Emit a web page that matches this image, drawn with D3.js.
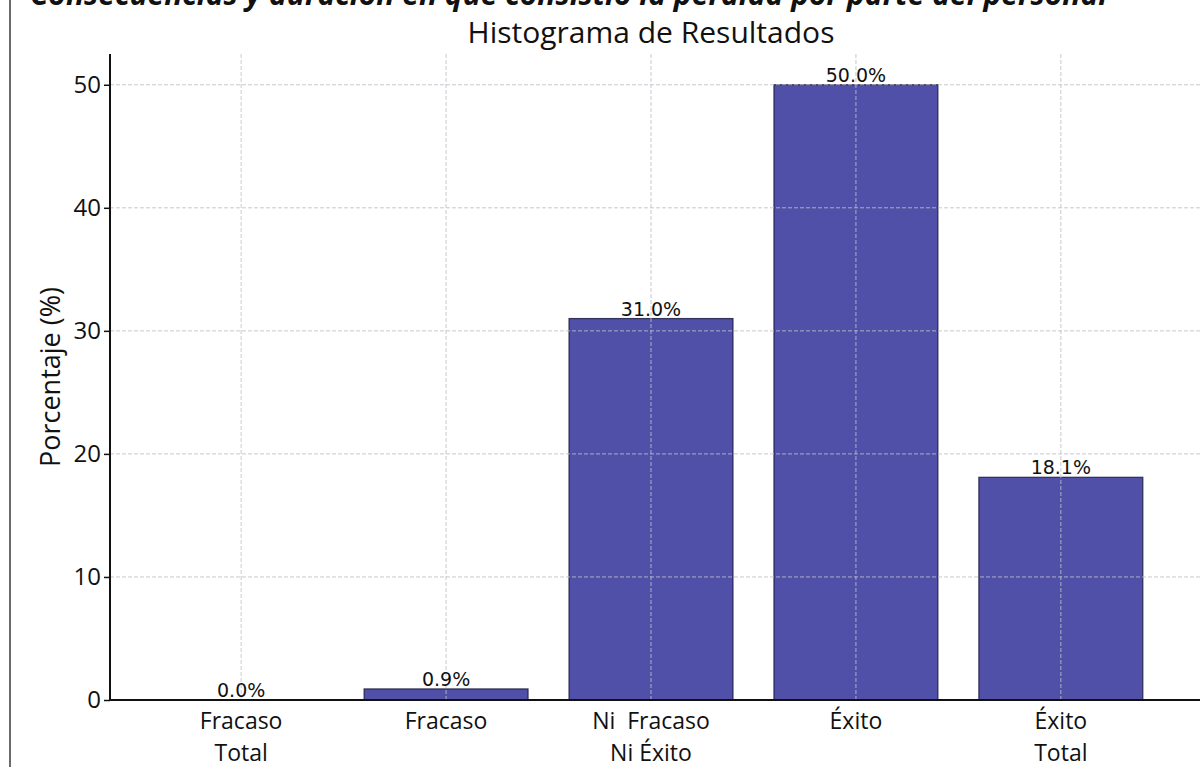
<!DOCTYPE html>
<html>
<head>
<meta charset="utf-8">
<script src="https://cdn.jsdelivr.net/npm/d3@7"></script>
<style>
  html, body { margin: 0; padding: 0; background: #fff; }
  svg { display: block; }
</style>
</head>
<body>
<svg id="chart" width="1200" height="767"></svg>
<script>
// Result categories (two-line labels) and their share in percent
const categories = ["Fracaso Total", "Fracaso", "Ni Fracaso Ni Éxito", "Éxito", "Éxito Total"];
const categoryLines = [["Fracaso", "Total"], ["Fracaso"], ["Ni  Fracaso", "Ni Éxito"], ["Éxito"], ["Éxito", "Total"]];
const percentages = [0.0, 0.9, 31.0, 50.0, 18.1];
const yTicks = [0, 10, 20, 30, 40, 50];

const title = "Histograma de Resultados";
const yLabel = "Porcentaje (%)";
const headerText = "Consecuencias y duración en que consistió la pérdida por parte del personal";

const svg = d3.select("#chart");
const W = 1200, H = 767;
const m = { left: 110, right: 1192, top: 54, bottom: 700 };

// page frame edge on the left
svg.append("line")
  .attr("x1", 10).attr("x2", 10).attr("y1", 0).attr("y2", H)
  .attr("stroke", "#6b6b6b").attr("stroke-width", 2);

// heading line, partly above the top edge
svg.append("text")
  .attr("x", 30).attr("y", 5)
  .attr("font-family", "Open Sans, sans-serif")
  .attr("font-size", 30).attr("font-weight", "bold").attr("font-style", "italic")
  .attr("fill", "#111")
  .text(headerText);

// x positions: bar centres one step apart, bars 0.8 step wide, 0.24 step margin
const x = d3.scaleLinear().domain([-0.64, 4.64]).range([m.left, m.right]);
const y = d3.scaleLinear().domain([0, 52.5]).range([m.bottom, m.top]);
const barHalf = 0.4;

// bars
svg.append("g").selectAll("rect")
  .data(percentages)
  .join("rect")
  .attr("x", (d, i) => x(i - barHalf))
  .attr("width", (d, i) => x(i + barHalf) - x(i - barHalf))
  .attr("y", d => y(d))
  .attr("height", d => y(0) - y(d))
  .attr("fill", "rgb(80,80,168)")
  .attr("stroke", "rgba(20,20,60,0.8)")
  .attr("stroke-width", 1.2);

// dashed grid drawn over the bars
const grid = svg.append("g")
  .attr("stroke", "rgba(190,190,200,0.85)")
  .attr("stroke-width", 1)
  .attr("stroke-dasharray", "4,2");
grid.selectAll("line.h")
  .data(yTicks.filter(t => t > 0))
  .join("line").attr("class", "h")
  .attr("x1", m.left).attr("x2", W)
  .attr("y1", d => y(d)).attr("y2", d => y(d));
grid.selectAll("line.v")
  .data(categories)
  .join("line").attr("class", "v")
  .attr("x1", (d, i) => x(i)).attr("x2", (d, i) => x(i))
  .attr("y1", m.top).attr("y2", m.bottom);

// value labels above each bar
svg.append("g").selectAll("text")
  .data(percentages)
  .join("text")
  .attr("x", (d, i) => x(i))
  .attr("y", d => y(d) - 3)
  .attr("text-anchor", "middle")
  .attr("font-family", "DejaVu Sans, sans-serif")
  .attr("font-size", 19)
  .attr("fill", "#111")
  .text(d => d.toFixed(1) + "%");

// y axis
const yAxis = svg.append("g")
  .attr("transform", `translate(${m.left},0)`)
  .call(d3.axisLeft(y).tickValues(yTicks).tickSize(6).tickPadding(3));
yAxis.select(".domain").remove();
yAxis.selectAll(".tick line").attr("stroke", "#111").attr("stroke-width", 1.5);
yAxis.selectAll(".tick text")
  .attr("font-family", "Open Sans, sans-serif")
  .attr("font-size", 24)
  .attr("fill", "#111");

// x axis category labels
const xLabels = svg.append("g").selectAll("text")
  .data(categoryLines)
  .join("text")
  .attr("x", (d, i) => x(i))
  .attr("y", 729)
  .attr("text-anchor", "middle")
  .attr("font-family", "Open Sans, sans-serif")
  .attr("font-size", 23)
  .attr("fill", "#111");
xLabels.selectAll("tspan")
  .data(d => d)
  .join("tspan")
  .attr("x", function () { return d3.select(this.parentNode).attr("x"); })
  .attr("dy", (d, j) => j === 0 ? 0 : 32)
  .attr("xml:space", "preserve")
  .text(d => d);

// spines
svg.append("line")
  .attr("x1", m.left).attr("x2", m.left).attr("y1", m.top).attr("y2", m.bottom + 1)
  .attr("stroke", "#111").attr("stroke-width", 2);
svg.append("line")
  .attr("x1", m.left - 1).attr("x2", W).attr("y1", m.bottom).attr("y2", m.bottom)
  .attr("stroke", "#111").attr("stroke-width", 2);

// title and y label
svg.append("text")
  .attr("x", (m.left + m.right) / 2).attr("y", 43)
  .attr("text-anchor", "middle")
  .attr("font-family", "Open Sans, sans-serif")
  .attr("font-size", 30)
  .attr("fill", "#111")
  .text(title);

svg.append("text")
  .attr("transform", `translate(60,${(m.top + m.bottom) / 2}) rotate(-90)`)
  .attr("text-anchor", "middle")
  .attr("font-family", "Open Sans, sans-serif")
  .attr("font-size", 27)
  .attr("fill", "#111")
  .text(yLabel);
</script>
</body>
</html>
